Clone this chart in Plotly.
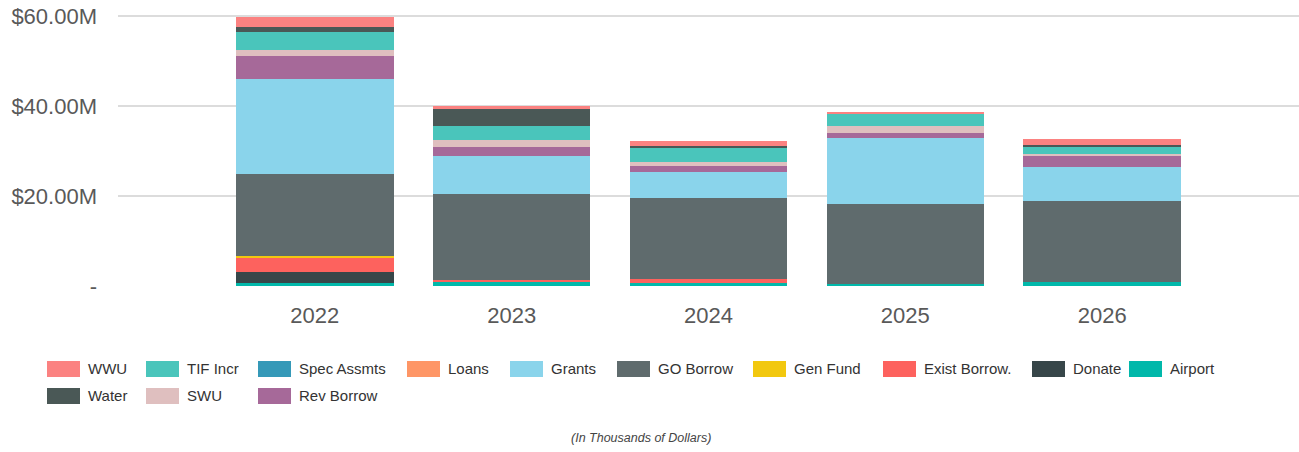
import plotly.graph_objects as go

# Fiscal years on the x axis
years = ["2022", "2023", "2024", "2025", "2026"]

# Funding sources in stacking order (bottom to top), values in $ millions
airport      = [0.6, 0.8, 0.6, 0.4, 0.8]
donate       = [2.45, 0.0, 0.0, 0.0, 0.0]
exist_borrow = [3.2, 0.5, 0.9, 0.0, 0.0]
gen_fund     = [0.45, 0.0, 0.0, 0.0, 0.0]
go_borrow    = [18.3, 19.2, 18.0, 17.8, 18.2]
grants       = [21.1, 8.4, 5.9, 14.8, 7.4]
loans        = [0.0, 0.0, 0.0, 0.0, 0.0]
rev_borrow   = [5.0, 2.0, 1.2, 1.0, 2.5]
spec_assmts  = [0.0, 0.0, 0.0, 0.0, 0.0]
swu          = [1.3, 1.6, 1.0, 1.5, 0.45]
tif_incr     = [4.1, 3.1, 3.0, 2.7, 1.5]
water        = [1.0, 3.7, 0.5, 0.0, 0.6]
wwu          = [2.3, 0.75, 1.26, 0.5, 1.2]

# y-axis ticks ($ millions) and their labels
y_ticks = [0, 20, 40, 60]
y_tick_labels = ["-", "$20.00M", "$40.00M", "$60.00M"]

series = [
    ("Airport", airport, "#01B8AA"),
    ("Donate", donate, "#374649"),
    ("Exist Borrow.", exist_borrow, "#FD625E"),
    ("Gen Fund", gen_fund, "#F2C80F"),
    ("GO Borrow", go_borrow, "#5F6B6D"),
    ("Grants", grants, "#8AD4EB"),
    ("Loans", loans, "#FE9666"),
    ("Rev Borrow", rev_borrow, "#A66999"),
    ("Spec Assmts", spec_assmts, "#3599B8"),
    ("SWU", swu, "#DFBFBF"),
    ("TIF Incr", tif_incr, "#4AC5BB"),
    ("Water", water, "#4A5856"),
    ("WWU", wwu, "#FB8281"),
]

# Legend layout: two rows, items aligned in columns
legend_row1 = ["WWU", "TIF Incr", "Spec Assmts", "Loans", "Grants",
               "GO Borrow", "Gen Fund", "Exist Borrow.", "Donate", "Airport"]
legend_row2 = ["Water", "SWU", "Rev Borrow"]
col_text_x = [89, 188, 300, 449, 552, 659, 795, 925, 1074, 1171]
row_mid_y = [369, 396]

W, H = 1299, 452
M_L, M_R, M_T, M_B = 118, 0, 14, 166
FONT = "Liberation Sans, Arial, sans-serif"
plot_w = W - M_L - M_R
plot_h = H - M_T - M_B


def px_to_paper_x(px):
    return (px - M_L) / plot_w


def px_to_paper_y(py):
    return (H - M_B - py) / plot_h


legend_slot = {}
for i, name in enumerate(legend_row1):
    legend_slot[name] = (col_text_x[i], row_mid_y[0])
for i, name in enumerate(legend_row2):
    legend_slot[name] = (col_text_x[i], row_mid_y[1])

fig = go.Figure()
legend_layouts = {}
swatches = []
for idx, (name, vals, color) in enumerate(series):
    key = "legend" if idx == 0 else f"legend{idx + 1}"
    fig.add_trace(go.Bar(
        x=years, y=vals, name=name, marker=dict(color=color, line=dict(width=0)),
        legend=key,
        hovertemplate="%{x}<br>" + name + ": $%{y:.2f}M<extra></extra>",
    ))
    tx, ty = legend_slot[name]
    legend_layouts[key] = dict(
        xref="container", yref="container",
        x=(tx - 41) / W, y=1 - (ty - 17) / H,
        xanchor="left", yanchor="top",
        orientation="v", bgcolor="rgba(0,0,0,0)", borderwidth=0,
        font=dict(family=FONT, size=15, color="#333333"),
        itemclick=False, itemdoubleclick=False,
    )
    # wider colour key behind the legend symbol
    swatches.append(dict(
        type="rect", xref="paper", yref="paper", layer="above",
        x0=px_to_paper_x(tx - 42), x1=px_to_paper_x(tx - 9),
        y0=px_to_paper_y(ty + 8), y1=px_to_paper_y(ty - 8),
        fillcolor=color, line=dict(width=0),
    ))

fig.update_layout(
    barmode="stack",
    bargap=0.2,
    width=W, height=H,
    margin=dict(l=M_L, r=M_R, t=M_T, b=M_B, autoexpand=False),
    plot_bgcolor="white",
    paper_bgcolor="white",
    showlegend=True,
    xaxis=dict(
        type="category",
        range=[-1, 5],
        showgrid=False,
        zeroline=False,
        showline=False,
        ticks="",
        tickfont=dict(family=FONT, size=22, color="#595959"),
        ticklabelstandoff=14,
    ),
    yaxis=dict(
        range=[0, 60.5],
        tickvals=y_ticks,
        ticktext=y_tick_labels,
        showgrid=True,
        gridcolor="#dcdcdc",
        gridwidth=1.5,
        zeroline=False,
        showline=False,
        ticks="",
        tickfont=dict(family=FONT, size=22, color="#595959"),
        ticklabelstandoff=20,
    ),
    shapes=swatches,
    annotations=[dict(
        text="<i>(In Thousands of Dollars)</i>",
        xref="paper", yref="paper",
        x=px_to_paper_x(641), y=px_to_paper_y(438),
        xanchor="center", yanchor="middle",
        showarrow=False,
        font=dict(family=FONT, size=12.5, color="#444444"),
    )],
    **legend_layouts,
)

fig.write_html("out.html")
